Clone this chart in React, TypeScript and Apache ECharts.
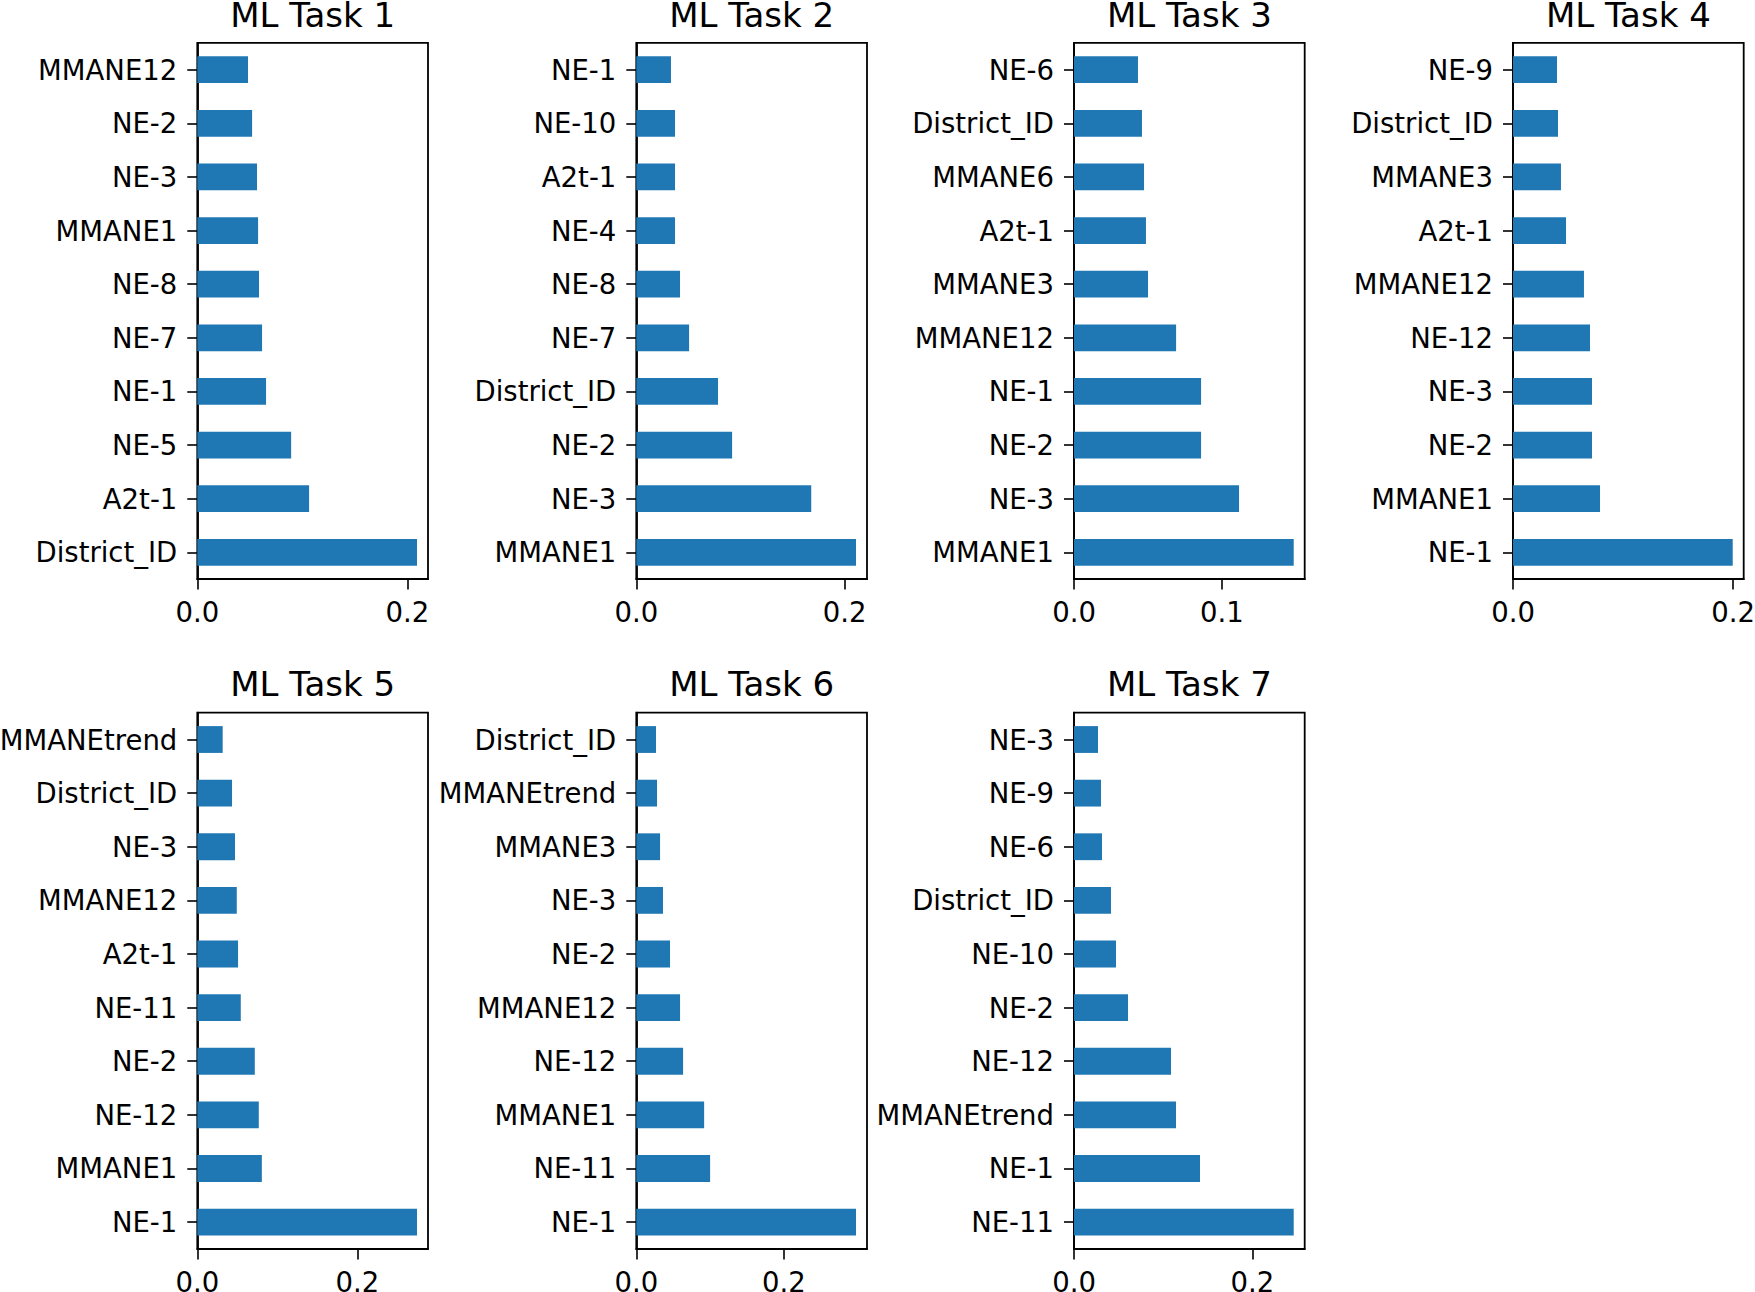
import React, { useEffect, useRef } from 'react';
import * as echarts from 'echarts';

const taskTitles = ['ML Task 1', 'ML Task 2', 'ML Task 3', 'ML Task 4', 'ML Task 5', 'ML Task 6', 'ML Task 7'];

// Features listed bottom-to-top (as drawn), with importance values
const task1Features = ['District_ID', 'A2t-1', 'NE-5', 'NE-1', 'NE-7', 'NE-8', 'MMANE1', 'NE-3', 'NE-2', 'MMANE12'];
const task1Values = [0.2093, 0.1065, 0.0894, 0.0655, 0.0617, 0.0588, 0.0579, 0.0569, 0.0522, 0.0483];

const task2Features = ['MMANE1', 'NE-3', 'NE-2', 'District_ID', 'NE-7', 'NE-8', 'NE-4', 'A2t-1', 'NE-10', 'NE-1'];
const task2Values = [0.211, 0.168, 0.092, 0.0785, 0.0507, 0.042, 0.0372, 0.0372, 0.0372, 0.0333];

const task3Features = ['MMANE1', 'NE-3', 'NE-2', 'NE-1', 'MMANE12', 'MMANE3', 'A2t-1', 'MMANE6', 'District_ID', 'NE-6'];
const task3Values = [0.1487, 0.1117, 0.086, 0.086, 0.0691, 0.0501, 0.0487, 0.0474, 0.046, 0.0433];

const task4Features = ['NE-1', 'MMANE1', 'NE-2', 'NE-3', 'NE-12', 'MMANE12', 'A2t-1', 'MMANE3', 'District_ID', 'NE-9'];
const task4Values = [0.1997, 0.0791, 0.0718, 0.0718, 0.07, 0.0645, 0.0482, 0.0436, 0.0409, 0.04];

const task5Features = ['NE-1', 'MMANE1', 'NE-12', 'NE-2', 'NE-11', 'A2t-1', 'MMANE12', 'NE-3', 'District_ID', 'MMANEtrend'];
const task5Values = [0.2744, 0.0806, 0.0768, 0.0718, 0.0543, 0.0509, 0.0493, 0.0471, 0.0434, 0.0317];

const task6Features = ['NE-1', 'NE-11', 'MMANE1', 'NE-12', 'MMANE12', 'NE-2', 'NE-3', 'MMANE3', 'MMANEtrend', 'District_ID'];
const task6Values = [0.2977, 0.1, 0.0919, 0.0634, 0.0593, 0.0457, 0.0362, 0.0322, 0.0281, 0.0267];

const task7Features = ['NE-11', 'NE-1', 'MMANEtrend', 'NE-12', 'NE-2', 'NE-10', 'District_ID', 'NE-6', 'NE-9', 'NE-3'];
const task7Values = [0.2464, 0.1413, 0.1144, 0.1088, 0.0606, 0.0471, 0.0415, 0.0314, 0.0303, 0.0269];

const ticksDefault = [0, 0.2];
const ticksTask3 = [0, 0.1];

const allFeatures = [task1Features, task2Features, task3Features, task4Features, task5Features, task6Features, task7Features];
const allValues = [task1Values, task2Values, task3Values, task4Values, task5Values, task6Values, task7Values];
const allTicks = [ticksDefault, ticksDefault, ticksTask3, ticksDefault, ticksDefault, ticksDefault, ticksDefault];

// layout
const colLefts = [197.3, 636.3, 1074, 1513];
const colWidth = 230.7;
const rowTops = [42.9, 712.7];
const rowHeight = 536.2;
const titleMidY = [14.5, 684];

const FONT = 'DejaVu Sans';
const BAR_COLOR = '#1f77b4';

export default function App() {
  const ref = useRef<HTMLDivElement>(null);

  useEffect(() => {
    if (!ref.current) return;
    const chart = echarts.init(ref.current, undefined, { renderer: 'svg' });

    const grids: any[] = [];
    const xAxes: any[] = [];
    const yAxes: any[] = [];
    const series: any[] = [];
    const graphics: any[] = [];

    allFeatures.forEach((feats, i) => {
      const row = i < 4 ? 0 : 1;
      const col = i < 4 ? i : i - 4;
      const vals = allValues[i];
      const maxV = Math.max(...vals) * 1.05;
      grids.push({
        left: colLefts[col],
        top: rowTops[row],
        width: colWidth,
        height: rowHeight,
        show: true,
        borderColor: '#000',
        borderWidth: 1.8,
        backgroundColor: 'transparent',
        containLabel: false,
        outerBoundsMode: 'none',
      });
      xAxes.push({
        type: 'value',
        gridIndex: i,
        min: 0,
        max: maxV,
        splitLine: { show: false },
        axisLine: { show: true, onZero: false, lineStyle: { color: '#000', width: 1.8 } },
        axisTick: { show: true, length: 10.5, customValues: allTicks[i], lineStyle: { color: '#000', width: 1.6 } },
        axisLabel: {
          show: true,
          customValues: allTicks[i],
          formatter: (v: number) => v.toFixed(1),
          fontSize: 27.5,
          fontFamily: FONT,
          color: '#000',
          margin: 19,
        },
      });
      yAxes.push({
        type: 'category',
        gridIndex: i,
        data: feats,
        axisLine: { show: true, lineStyle: { color: '#000', width: 1.8 } },
        axisTick: { show: true, alignWithLabel: true, length: 10, lineStyle: { color: '#000', width: 1.6 } },
        axisLabel: { fontSize: 27.5, fontFamily: FONT, color: '#000', margin: 20, interval: 0 },
        splitLine: { show: false },
      });
      series.push({
        type: 'bar',
        xAxisIndex: i,
        yAxisIndex: i,
        data: vals,
        barWidth: '50%',
        itemStyle: { color: BAR_COLOR },
        silent: true,
      });
      graphics.push({
        type: 'text',
        x: colLefts[col] + colWidth / 2,
        y: titleMidY[row],
        style: {
          text: taskTitles[i],
          fontSize: 34,
          fontFamily: FONT,
          fill: '#000',
          align: 'center',
          verticalAlign: 'middle',
        },
      });
    });

    chart.setOption({
      animation: false,
      backgroundColor: '#fff',
      grid: grids,
      xAxis: xAxes,
      yAxis: yAxes,
      series,
      graphic: graphics,
    });

    return () => chart.dispose();
  }, []);

  return (
    <div
      ref={ref}
      style={{ position: 'absolute', left: 0, top: 0, width: 1755, height: 1292, background: '#fff' }}
    />
  );
}
